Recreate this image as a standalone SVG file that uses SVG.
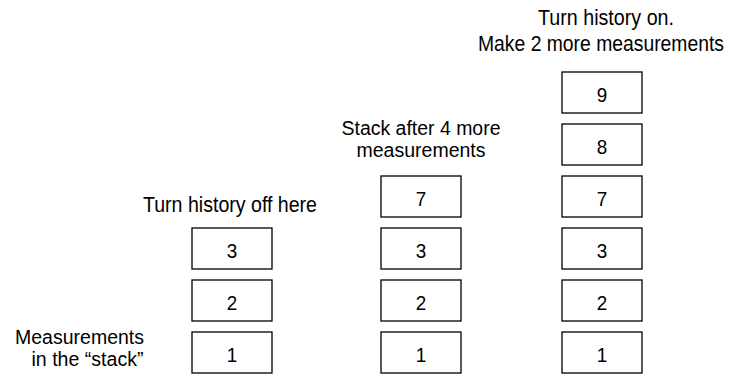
<svg xmlns="http://www.w3.org/2000/svg" width="729" height="375" viewBox="0 0 729 375">
<style>
.box rect{fill:#fff;stroke:#000;stroke-width:1.3}
text{font-family:"Liberation Sans",Arial,sans-serif;font-size:22px;fill:#000}
.tight{font-size:19.6px}
.num{text-anchor:middle;font-size:21px}
.c{text-anchor:middle}
.e{text-anchor:end}
</style>
<rect width="729" height="375" fill="#fff"/>
<g id="labels">
<text class="c" x="230" y="211.5" textLength="174" lengthAdjust="spacingAndGlyphs">Turn history off here</text>
<text class="e tight" x="144" y="343.5" textLength="129" lengthAdjust="spacingAndGlyphs">Measurements</text>
<text class="e tight" x="143.5" y="366" textLength="112" lengthAdjust="spacingAndGlyphs">in the “stack”</text>
<text class="c tight" x="421" y="135" textLength="159" lengthAdjust="spacingAndGlyphs">Stack after 4 more</text>
<text class="c tight" x="421" y="157" textLength="129" lengthAdjust="spacingAndGlyphs">measurements</text>
<text class="c" x="606" y="25" textLength="136" lengthAdjust="spacingAndGlyphs">Turn history on.</text>
<text class="c" transform="translate(601 51) scale(0.879 1)" x="0" y="0">Make 2 more measurements</text>
</g>
<g id="stack1">
<g id="s1-3" class="box"><rect x="192" y="228" width="80" height="41"/><text class="num" x="232" y="257.5" textLength="10.5" lengthAdjust="spacingAndGlyphs">3</text></g>
<g id="s1-2" class="box"><rect x="192" y="280" width="80" height="41"/><text class="num" x="232" y="309.5" textLength="10.5" lengthAdjust="spacingAndGlyphs">2</text></g>
<g id="s1-1" class="box"><rect x="192" y="332" width="80" height="41"/><text class="num" x="232" y="361.5" textLength="10.5" lengthAdjust="spacingAndGlyphs">1</text></g>
</g>
<g id="stack2">
<g id="s2-7" class="box"><rect x="381" y="176" width="80" height="41"/><text class="num" x="421" y="205.5" textLength="10.5" lengthAdjust="spacingAndGlyphs">7</text></g>
<g id="s2-3" class="box"><rect x="381" y="228" width="80" height="41"/><text class="num" x="421" y="257.5" textLength="10.5" lengthAdjust="spacingAndGlyphs">3</text></g>
<g id="s2-2" class="box"><rect x="381" y="280" width="80" height="41"/><text class="num" x="421" y="309.5" textLength="10.5" lengthAdjust="spacingAndGlyphs">2</text></g>
<g id="s2-1" class="box"><rect x="381" y="332" width="80" height="41"/><text class="num" x="421" y="361.5" textLength="10.5" lengthAdjust="spacingAndGlyphs">1</text></g>
</g>
<g id="stack3">
<g id="s3-9" class="box"><rect x="562" y="72" width="80" height="41"/><text class="num" x="602" y="101.5" textLength="10.5" lengthAdjust="spacingAndGlyphs">9</text></g>
<g id="s3-8" class="box"><rect x="562" y="124" width="80" height="41"/><text class="num" x="602" y="153.5" textLength="10.5" lengthAdjust="spacingAndGlyphs">8</text></g>
<g id="s3-7" class="box"><rect x="562" y="176" width="80" height="41"/><text class="num" x="602" y="205.5" textLength="10.5" lengthAdjust="spacingAndGlyphs">7</text></g>
<g id="s3-3" class="box"><rect x="562" y="228" width="80" height="41"/><text class="num" x="602" y="257.5" textLength="10.5" lengthAdjust="spacingAndGlyphs">3</text></g>
<g id="s3-2" class="box"><rect x="562" y="280" width="80" height="41"/><text class="num" x="602" y="309.5" textLength="10.5" lengthAdjust="spacingAndGlyphs">2</text></g>
<g id="s3-1" class="box"><rect x="562" y="332" width="80" height="41"/><text class="num" x="602" y="361.5" textLength="10.5" lengthAdjust="spacingAndGlyphs">1</text></g>
</g>
<g id="connectors"></g>
</svg>
